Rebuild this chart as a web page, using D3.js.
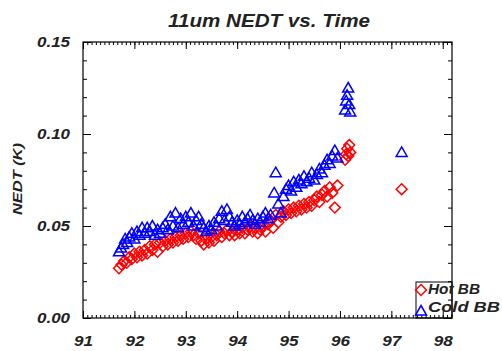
<!DOCTYPE html>
<html><head><meta charset="utf-8">
<script src="https://cdn.jsdelivr.net/npm/d3@7"></script>
<style>
body{margin:0;background:#fff;}
text{font-family:"Liberation Sans",Arial,sans-serif;font-weight:bold;font-style:italic;fill:#222;}
</style></head>
<body>
<svg id="c" width="502" height="351"></svg>
<script>
const title = "11um NEDT vs. Time";
const yLabel = "NEDT (K)";
const xTickValues = [91,92,93,94,95,96,97,98];
const xTickLabels = ["91","92","93","94","95","96","97","98"];
const yTickValues = [0,0.05,0.10,0.15];
const yTickLabels = ["0.00","0.05","0.10","0.15"];
const seriesNames = ["Hot BB","Cold BB"];

const coldYears = [91.70,91.74,91.78,91.82,91.86,91.90,91.95,92.00,92.05,92.10,92.15,92.20,92.25,92.30,92.35,92.40,92.45,92.50,92.55,92.60,92.65,92.70,92.75,92.80,92.85,92.90,92.95,93.00,93.05,93.10,93.15,93.20,93.25,93.30,93.35,93.40,93.45,93.50,93.55,93.60,93.65,93.70,93.75,93.80,93.85,93.90,93.95,94.00,94.05,94.10,94.15,94.20,94.25,94.30,94.35,94.40,94.45,94.50,94.55,94.60,94.65,94.72,94.75,94.80,94.85,94.90,94.95,95.00,95.05,95.10,95.15,95.20,95.25,95.30,95.35,95.40,95.45,95.50,95.55,95.60,95.65,95.70,95.75,95.80,95.85,95.90,95.95,96.10,96.12,96.14,96.16,96.18,96.20,97.20];
const coldValues = [0.036,0.038,0.040,0.043,0.041,0.044,0.046,0.043,0.047,0.045,0.049,0.046,0.049,0.047,0.050,0.045,0.048,0.046,0.049,0.051,0.048,0.055,0.050,0.057,0.049,0.054,0.051,0.055,0.052,0.057,0.050,0.053,0.055,0.051,0.049,0.047,0.050,0.048,0.052,0.050,0.054,0.058,0.053,0.059,0.055,0.052,0.050,0.053,0.051,0.055,0.052,0.054,0.056,0.053,0.051,0.054,0.052,0.055,0.057,0.054,0.056,0.068,0.079,0.062,0.057,0.066,0.070,0.072,0.069,0.074,0.071,0.075,0.073,0.077,0.074,0.076,0.079,0.075,0.078,0.081,0.079,0.083,0.086,0.084,0.088,0.091,0.087,0.113,0.118,0.121,0.125,0.116,0.112,0.090];

const hotYears = [91.70,91.75,91.80,91.85,91.90,91.95,92.00,92.05,92.10,92.15,92.20,92.25,92.30,92.35,92.40,92.45,92.50,92.55,92.60,92.65,92.70,92.75,92.80,92.85,92.90,92.95,93.00,93.05,93.10,93.15,93.20,93.25,93.30,93.35,93.40,93.45,93.50,93.55,93.60,93.65,93.70,93.75,93.80,93.85,93.90,93.95,94.00,94.05,94.10,94.15,94.20,94.25,94.30,94.35,94.40,94.45,94.50,94.55,94.60,94.65,94.70,94.75,94.80,94.85,94.90,94.95,95.00,95.05,95.10,95.15,95.20,95.25,95.30,95.35,95.40,95.45,95.50,95.55,95.60,95.65,95.70,95.75,95.80,95.85,95.90,95.95,96.10,96.12,96.14,96.16,96.18,96.20,97.20];
const hotValues = [0.027,0.029,0.031,0.030,0.033,0.032,0.035,0.033,0.036,0.034,0.037,0.035,0.039,0.037,0.040,0.036,0.041,0.039,0.042,0.040,0.043,0.041,0.044,0.042,0.045,0.043,0.046,0.044,0.047,0.045,0.043,0.046,0.042,0.040,0.043,0.041,0.044,0.042,0.045,0.047,0.044,0.046,0.048,0.045,0.047,0.045,0.048,0.046,0.049,0.046,0.048,0.050,0.047,0.049,0.046,0.048,0.050,0.047,0.051,0.053,0.049,0.056,0.052,0.055,0.058,0.056,0.059,0.057,0.060,0.058,0.061,0.059,0.062,0.060,0.063,0.061,0.064,0.066,0.063,0.067,0.069,0.066,0.071,0.068,0.060,0.072,0.086,0.089,0.092,0.088,0.094,0.090,0.070];

const L=83, R=452, T=42, B=318;
const x = d3.scaleLinear().domain([91, 98.18]).range([L, R]);
const y = d3.scaleLinear().domain([0, 0.15]).range([B, T]);
const svg = d3.select("#c");

svg.append("text").attr("x",269).attr("y",27).attr("text-anchor","middle")
  .attr("font-size",18).attr("textLength",202).attr("lengthAdjust","spacingAndGlyphs").text(title);
svg.append("text").attr("transform","translate(22,179) rotate(-90)").attr("text-anchor","middle")
  .attr("font-size",13).attr("textLength",72).attr("lengthAdjust","spacingAndGlyphs").text(yLabel);

svg.append("rect").attr("x",L).attr("y",T).attr("width",R-L).attr("height",B-T)
  .attr("fill","none").attr("stroke","#000").attr("stroke-width",1.2);

const monthTicks = d3.range(91*12, 98.18*12).map(v=>v/12);
const minorY = d3.range(0, 0.1501, 0.01);
function styleAxis(g){ g.select(".domain").remove(); g.selectAll("line").attr("stroke","#000").attr("stroke-width",1); }

svg.append("g").attr("transform",`translate(0,${B})`)
  .call(d3.axisBottom(x).tickValues(monthTicks).tickSize(-3).tickFormat("")).call(styleAxis);
svg.append("g").attr("transform",`translate(0,${B})`)
  .call(d3.axisBottom(x).tickValues(xTickValues).tickSize(-7).tickPadding(17).tickFormat((d,i)=>xTickLabels[i]))
  .call(styleAxis)
  .call(g=>g.selectAll("text").attr("font-size",15).attr("fill","#222").attr("font-family",null)
     .attr("textLength",19).attr("lengthAdjust","spacingAndGlyphs"));
svg.append("g").attr("transform",`translate(0,${T})`)
  .call(d3.axisTop(x).tickValues(monthTicks).tickSize(-3).tickFormat("")).call(styleAxis);
svg.append("g").attr("transform",`translate(0,${T})`)
  .call(d3.axisTop(x).tickValues(xTickValues).tickSize(-7).tickFormat("")).call(styleAxis);
svg.append("g").attr("transform",`translate(${L},0)`)
  .call(d3.axisLeft(y).tickValues(minorY).tickSize(-4).tickFormat("")).call(styleAxis);
svg.append("g").attr("transform",`translate(${L},0)`)
  .call(d3.axisLeft(y).tickValues(yTickValues).tickSize(-8).tickPadding(13).tickFormat((d,i)=>yTickLabels[i]))
  .call(styleAxis)
  .call(g=>g.selectAll("text").attr("font-size",14).attr("fill","#222").attr("font-family",null)
     .attr("textLength",33).attr("lengthAdjust","spacingAndGlyphs"));
svg.append("g").attr("transform",`translate(${R},0)`)
  .call(d3.axisRight(y).tickValues(minorY).tickSize(-4).tickFormat("")).call(styleAxis);
svg.append("g").attr("transform",`translate(${R},0)`)
  .call(d3.axisRight(y).tickValues(yTickValues).tickSize(-8).tickFormat("")).call(styleAxis);

const diamond = d3.symbol().type(d3.symbolDiamond2).size(75);
const triPath = "M0,-5.5L5.5,4L-5.5,4Z";

const hot = hotYears.map((t,i)=>({t, v:hotValues[i]}));
const cold = coldYears.map((t,i)=>({t, v:coldValues[i]}));

svg.append("g").selectAll("path").data(hot).join("path")
  .attr("d", diamond()).attr("transform",d=>`translate(${x(d.t)},${y(d.v)})`)
  .attr("fill","none").attr("stroke","#ff0000").attr("stroke-width",1.5);
svg.append("g").selectAll("path").data(cold).join("path")
  .attr("d", triPath).attr("transform",d=>`translate(${x(d.t)},${y(d.v)})`)
  .attr("fill","none").attr("stroke","#0000ff").attr("stroke-width",1.5);

const lg = svg.append("g");
lg.append("rect").attr("x",416).attr("y",282).attr("width",R-416).attr("height",B-282)
  .attr("fill","none").attr("stroke","#000").attr("stroke-width",1);
lg.append("path").attr("d",diamond()).attr("transform","translate(421,290)")
  .attr("fill","none").attr("stroke","#ff0000").attr("stroke-width",1.5);
lg.append("path").attr("d",triPath).attr("transform","translate(421,311)")
  .attr("fill","none").attr("stroke","#0000ff").attr("stroke-width",1.5);
lg.append("text").attr("x",428).attr("y",294).attr("font-size",15)
  .attr("textLength",52).attr("lengthAdjust","spacingAndGlyphs").text(seriesNames[0]);
lg.append("text").attr("x",428).attr("y",312).attr("font-size",15)
  .attr("textLength",72).attr("lengthAdjust","spacingAndGlyphs").text(seriesNames[1]);
</script>
</body></html>
